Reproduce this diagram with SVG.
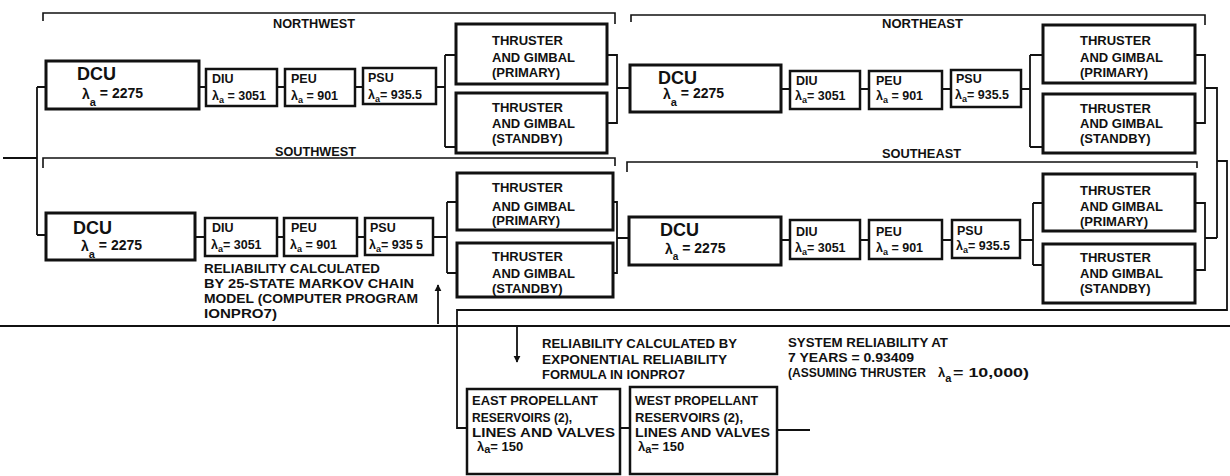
<svg xmlns="http://www.w3.org/2000/svg" width="1230" height="476" viewBox="0 0 1230 476">
<style>
.box{fill:#fff;stroke:#111;stroke-width:3}
.sm{fill:#fff;stroke:#111;stroke-width:2.5}
.w{fill:none;stroke:#111;stroke-width:1.8}
.br{fill:none;stroke:#111;stroke-width:1.6}
text{font-family:"Liberation Sans",Arial,sans-serif;font-weight:bold;fill:#111}
.dcu{font-size:18px}
.lam{font-size:14px}
.s{font-size:12.5px}
.th{font-size:13px}
.lab{font-size:12.5px}
.an{font-size:13px}
</style>
<defs>
<marker id="ah" viewBox="0 0 10 10" refX="9" refY="5" markerUnits="userSpaceOnUse" markerWidth="7" markerHeight="8" orient="auto"><path d="M0,0 L10,5 L0,10 z" fill="#111"/></marker>
</defs>
<rect width="1230" height="476" fill="#fff"/>

<g id="brackets">
<path class="br" d="M43,21 V13 H615 V24"/>
<path class="br" d="M631,22 V15 H1205 V25"/>
<path class="br" d="M43,168 V158 H615 V166"/>
<path class="br" d="M627,172 V162 H1197 V168"/>
</g>
<g id="labels">
<text class="lab" x="273" y="28" textLength="82" lengthAdjust="spacingAndGlyphs">NORTHWEST</text>
<text class="lab" x="882" y="28" textLength="81" lengthAdjust="spacingAndGlyphs">NORTHEAST</text>
<text class="lab" x="275" y="156" textLength="81" lengthAdjust="spacingAndGlyphs">SOUTHWEST</text>
<text class="lab" x="882" y="158" textLength="79" lengthAdjust="spacingAndGlyphs">SOUTHEAST</text>
</g>

<g id="connectors">
<path class="w" d="M3,158 H37 M37,87 V235 M37,87 H46 M37,235 H46"/>
<path class="w" d="M199,87 H206 M277,87 H285 M355,87 H363 M436,87 H445 M445,55 V147 M445,55 H456 M445,147 H456"/>
<path class="w" d="M607,55 H617 V123 H607 M617,88 H630"/>
<path class="w" d="M781,89 H790 M860,89 H869 M942,89 H951 M1021,89 H1030 M1030,55 V147 M1030,55 H1043 M1030,147 H1043"/>
<path class="w" d="M1195,55 H1205 V123 H1195 M1205,88 H1217 V238"/>
<path class="w" d="M195,237 H205 M277,237 H284 M357,237 H365 M433,237 H447 M447,202 V273 M447,202 H457 M447,273 H457"/>
<path class="w" d="M613,202 H617 V273 H613 M617,238 H629"/>
<path class="w" d="M781,240 H790 M860,240 H869 M942,240 H952 M1020,240 H1033 M1033,203 V265 M1033,203 H1043 M1033,265 H1043"/>
<path class="w" d="M1195,203 H1205 V270 H1195 M1205,238 H1217 M1217,161 H1227 V310 H457 V428 H467"/>
<path class="w" d="M620,428 H630 M777,430 H810"/>
<path class="w" d="M0,326 H1230" stroke-width="2"/>
<path class="w" d="M438,324 V285" marker-end="url(#ah)"/>
<path class="w" d="M517,327 V362" marker-end="url(#ah)"/>
</g>

<g id="nw-dcu"><rect class="box" x="46" y="61" width="153" height="48"/>
<text class="dcu" x="77" y="80">DCU</text>
<text class="lam" x="82" y="99">λ<tspan dy="7" font-size="11">a</tspan><tspan dy="-8"> = 2275</tspan></text></g>
<g id="nw-diu"><rect class="sm" x="206" y="69" width="71" height="37"/>
<text class="s" x="212" y="83">DIU</text>
<text class="s" x="212" y="100">λ<tspan dy="3" font-size="9">a</tspan><tspan dy="-3"> = 3051</tspan></text></g>
<g id="nw-peu"><rect class="sm" x="285" y="69" width="70" height="37"/>
<text class="s" x="291" y="83">PEU</text>
<text class="s" x="291" y="100">λ<tspan dy="3" font-size="9">a</tspan><tspan dy="-3"> = 901</tspan></text></g>
<g id="nw-psu"><rect class="sm" x="363" y="68" width="73" height="36"/>
<text class="s" x="368" y="82">PSU</text>
<text class="s" x="368" y="99">λ<tspan dy="3" font-size="9">a</tspan><tspan dy="-3">= 935.5</tspan></text></g>
<g id="nw-thr-p"><rect class="box" x="456" y="24" width="151" height="60"/>
<text class="th" x="492" y="45">THRUSTER</text><text class="th" x="492" y="62">AND GIMBAL</text><text class="th" x="492" y="77">(PRIMARY)</text></g>
<g id="nw-thr-s"><rect class="box" x="456" y="93" width="151" height="60"/>
<text class="th" x="492" y="112">THRUSTER</text><text class="th" x="492" y="128">AND GIMBAL</text><text class="th" x="492" y="143">(STANDBY)</text></g>

<g id="ne-dcu"><rect class="box" x="630" y="65" width="151" height="47"/>
<text class="dcu" x="658" y="84">DCU</text>
<text class="lam" x="663" y="99">λ<tspan dy="7" font-size="11">a</tspan><tspan dy="-8"> = 2275</tspan></text></g>
<g id="ne-diu"><rect class="sm" x="790" y="71" width="70" height="38"/>
<text class="s" x="796" y="85">DIU</text>
<text class="s" x="795" y="100">λ<tspan dy="3" font-size="9">a</tspan><tspan dy="-3">= 3051</tspan></text></g>
<g id="ne-peu"><rect class="sm" x="869" y="71" width="73" height="38"/>
<text class="s" x="876" y="85">PEU</text>
<text class="s" x="876" y="100">λ<tspan dy="3" font-size="9">a</tspan><tspan dy="-3"> = 901</tspan></text></g>
<g id="ne-psu"><rect class="sm" x="951" y="70" width="70" height="37"/>
<text class="s" x="956" y="83">PSU</text>
<text class="s" x="955" y="99">λ<tspan dy="3" font-size="9">a</tspan><tspan dy="-3">= 935.5</tspan></text></g>
<g id="ne-thr-p"><rect class="box" x="1043" y="25" width="152" height="58"/>
<text class="th" x="1080" y="45">THRUSTER</text><text class="th" x="1080" y="62">AND GIMBAL</text><text class="th" x="1080" y="77">(PRIMARY)</text></g>
<g id="ne-thr-s"><rect class="box" x="1043" y="94" width="152" height="59"/>
<text class="th" x="1080" y="113">THRUSTER</text><text class="th" x="1080" y="128">AND GIMBAL</text><text class="th" x="1080" y="143">(STANDBY)</text></g>

<g id="sw-dcu"><rect class="box" x="46" y="213" width="149" height="47"/>
<text class="dcu" x="73" y="234">DCU</text>
<text class="lam" x="81" y="251">λ<tspan dy="7" font-size="11">a</tspan><tspan dy="-8"> = 2275</tspan></text></g>
<g id="sw-diu"><rect class="sm" x="205" y="218" width="72" height="38"/>
<text class="s" x="212" y="232">DIU</text>
<text class="s" x="211" y="249">λ<tspan dy="3" font-size="9">a</tspan><tspan dy="-3">= 3051</tspan></text></g>
<g id="sw-peu"><rect class="sm" x="284" y="218" width="73" height="38"/>
<text class="s" x="291" y="232">PEU</text>
<text class="s" x="290" y="249">λ<tspan dy="3" font-size="9">a</tspan><tspan dy="-3"> = 901</tspan></text></g>
<g id="sw-psu"><rect class="sm" x="365" y="218" width="68" height="37"/>
<text class="s" x="370" y="232">PSU</text>
<text class="s" x="369" y="249">λ<tspan dy="3" font-size="9">a</tspan><tspan dy="-3">= 935 5</tspan></text></g>
<g id="sw-thr-p"><rect class="box" x="457" y="173" width="156" height="57"/>
<text class="th" x="492" y="192">THRUSTER</text><text class="th" x="492" y="211">AND GIMBAL</text><text class="th" x="492" y="225">(PRIMARY)</text></g>
<g id="sw-thr-s"><rect class="box" x="457" y="243" width="156" height="54"/>
<text class="th" x="492" y="261">THRUSTER</text><text class="th" x="492" y="278">AND GIMBAL</text><text class="th" x="492" y="293">(STANDBY)</text></g>

<g id="se-dcu"><rect class="box" x="629" y="217" width="152" height="48"/>
<text class="dcu" x="660" y="236" font-size="17">DCU</text>
<text class="lam" x="665" y="254" font-size="13">λ<tspan dy="6" font-size="10">a</tspan><tspan dy="-7"> = 2275</tspan></text></g>
<g id="se-diu"><rect class="sm" x="790" y="220" width="70" height="39"/>
<text class="s" x="796" y="236">DIU</text>
<text class="s" x="795" y="252">λ<tspan dy="3" font-size="9">a</tspan><tspan dy="-3">= 3051</tspan></text></g>
<g id="se-peu"><rect class="sm" x="869" y="220" width="73" height="39"/>
<text class="s" x="876" y="236">PEU</text>
<text class="s" x="876" y="252">λ<tspan dy="3" font-size="9">a</tspan><tspan dy="-3"> = 901</tspan></text></g>
<g id="se-psu"><rect class="sm" x="952" y="220" width="68" height="38"/>
<text class="s" x="957" y="235">PSU</text>
<text class="s" x="956" y="250">λ<tspan dy="3" font-size="9">a</tspan><tspan dy="-3">= 935.5</tspan></text></g>
<g id="se-thr-p"><rect class="box" x="1043" y="174" width="152" height="57"/>
<text class="th" x="1080" y="195">THRUSTER</text><text class="th" x="1080" y="211">AND GIMBAL</text><text class="th" x="1080" y="226">(PRIMARY)</text></g>
<g id="se-thr-s"><rect class="box" x="1043" y="244" width="152" height="59"/>
<text class="th" x="1080" y="262">THRUSTER</text><text class="th" x="1080" y="278">AND GIMBAL</text><text class="th" x="1080" y="293">(STANDBY)</text></g>

<g id="east-propellant"><rect class="sm" x="467" y="389" width="153" height="85"/>
<text class="an" x="472" y="405" textLength="126" lengthAdjust="spacingAndGlyphs">EAST PROPELLANT</text>
<text class="an" x="472" y="422" textLength="100" lengthAdjust="spacingAndGlyphs">RESERVOIRS (2),</text>
<text class="an" x="472" y="437" textLength="143" lengthAdjust="spacingAndGlyphs">LINES AND VALVES</text>
<text class="an" x="477" y="451">λ<tspan dy="2" font-size="11">a</tspan><tspan dy="-2">= 150</tspan></text></g>
<g id="west-propellant"><rect class="sm" x="630" y="387" width="147" height="87"/>
<text class="an" x="635" y="405" textLength="123" lengthAdjust="spacingAndGlyphs">WEST PROPELLANT</text>
<text class="an" x="635" y="422" textLength="108" lengthAdjust="spacingAndGlyphs">RESERVOIRS (2),</text>
<text class="an" x="635" y="437" textLength="135" lengthAdjust="spacingAndGlyphs">LINES AND VALVES</text>
<text class="an" x="638" y="451">λ<tspan dy="2" font-size="11">a</tspan><tspan dy="-2">= 150</tspan></text></g>

<g id="notes">
<text class="an" x="204" y="273" textLength="176" lengthAdjust="spacingAndGlyphs">RELIABILITY CALCULATED</text>
<text class="an" x="204" y="288" textLength="210" lengthAdjust="spacingAndGlyphs">BY 25-STATE MARKOV CHAIN</text>
<text class="an" x="204" y="303" textLength="214" lengthAdjust="spacingAndGlyphs">MODEL (COMPUTER PROGRAM</text>
<text class="an" x="204" y="318" textLength="73" lengthAdjust="spacingAndGlyphs">IONPRO7)</text>
<text class="an" x="542" y="348" textLength="195" lengthAdjust="spacingAndGlyphs">RELIABILITY CALCULATED BY</text>
<text class="an" x="542" y="364" textLength="185" lengthAdjust="spacingAndGlyphs">EXPONENTIAL RELIABILITY</text>
<text class="an" x="542" y="379" textLength="143" lengthAdjust="spacingAndGlyphs">FORMULA IN IONPRO7</text>
<text class="an" x="788" y="347" textLength="160" lengthAdjust="spacingAndGlyphs">SYSTEM RELIABILITY AT</text>
<text class="an" x="788" y="362" textLength="126" lengthAdjust="spacingAndGlyphs">7 YEARS = 0.93409</text>
<text class="an" x="788" y="377" textLength="138" lengthAdjust="spacingAndGlyphs">(ASSUMING THRUSTER</text>
<text class="an" x="938" y="377">λ<tspan dy="5" font-size="11">a</tspan></text>
<text class="an" x="953" y="377" font-size="14" textLength="76" lengthAdjust="spacingAndGlyphs">= 10,000)</text>
</g>
</svg>
